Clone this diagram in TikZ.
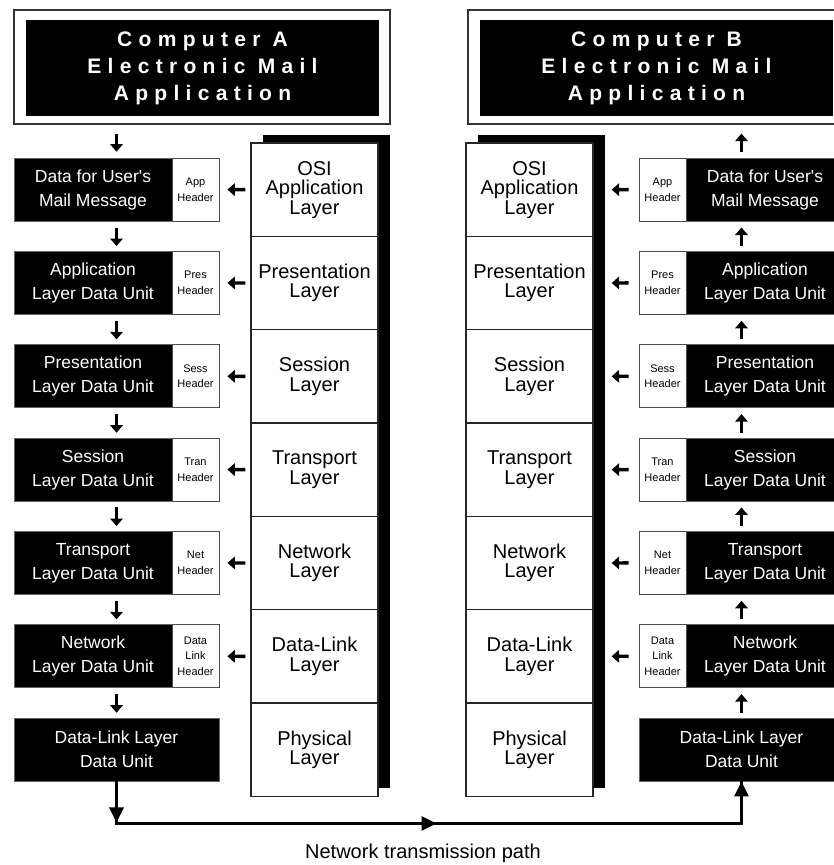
\documentclass[tikz,border=0pt]{standalone}
\usepackage{fontspec}
\setmainfont{Liberation Sans}
\newfontfamily\spacedfont[LetterSpace=30]{Liberation Sans}
\usetikzlibrary{arrows.meta,calc}

\tikzset{
  framebox/.style={draw=black!80, line width=1.2pt, fill=white,
    minimum width=376pt, minimum height=114pt, inner sep=0pt},
  titlebar/.style={fill=black, text=white, minimum width=353pt, minimum height=96pt,
    align=center, inner sep=0pt,
    font=\spacedfont\bfseries\fontsize{21}{27}\selectfont},
  unitbox/.style={fill=black, draw=black!60, line width=0.8pt,
    minimum width=205pt, minimum height=63pt, inner sep=0pt},
  hdrbox/.style={fill=white, draw=black!70, line width=0.8pt,
    minimum width=47pt, minimum height=63pt, align=center, inner sep=0pt,
    font=\fontsize{11}{15.5}\selectfont},
  unittext/.style={text=white, align=center, inner sep=0pt,
    font=\fontsize{17.5}{24}\selectfont},
  layercell/.style={draw=black!85, line width=1.3pt, fill=white,
    minimum width=127pt, minimum height=93.33pt, align=center, inner sep=0pt,
    font=\fontsize{20}{19.5}\selectfont},
  arr/.style={line width=3.4pt, -{Triangle[width=12.5pt,length=7.5pt]}},
  bigarr/.style={line width=3pt, -{Triangle[width=14pt,length=15pt]}},
  pathline/.style={line width=3pt, line join=miter},
}

\begin{document}
\begin{tikzpicture}[x=1pt, y=-1pt]
\useasboundingbox (0,0) rectangle (834,865);
\clip (0,0) rectangle (834,865);

% application banners
\node[framebox] (TA) at (202,67) {};
\node[titlebar] (TAt) at (202.5,68) {Computer A\\Electronic Mail\\Application};
\node[framebox] (TB) at (656,67) {};
\node[titlebar] (TBt) at (656.5,68) {Computer B\\Electronic Mail\\Application};

% OSI layer stacks
\foreach \i in {0,...,6}{
  \coordinate (LLc\i) at (314.5, {189.67+93.33*\i});
  \coordinate (RLc\i) at (529.5, {189.67+93.33*\i});
}
\fill ($(LLc0)+(-63.5,-46.67)+(12,-8)$) rectangle ($(LLc6)+(63.5,46.67)+(12,-8)$);
\fill ($(RLc0)+(-63.5,-46.67)+(12,-8)$) rectangle ($(RLc6)+(63.5,46.67)+(12,-8)$);
\foreach \i/\lay in {0/{OSI\\Application\\Layer}, 1/{Presentation\\Layer},
    2/{Session\\Layer}, 3/{Transport\\Layer}, 4/{Network\\Layer},
    5/{Data-Link\\Layer}, 6/{Physical\\Layer}}{
  \node[layercell] (LL\i) at (LLc\i) {\lay};
  \node[layercell] (RL\i) at (RLc\i) {\lay};
}

% data units with their headers
\foreach \i/\hd/\txt in {
   0/{App\\Header}/{Data for User\textquotesingle s\\Mail Message},
   1/{Pres\\Header}/{Application\\Layer Data Unit},
   2/{Sess\\Header}/{Presentation\\Layer Data Unit},
   3/{Tran\\Header}/{Session\\Layer Data Unit},
   4/{Net\\Header}/{Transport\\Layer Data Unit},
   5/{Data\\Link\\Header}/{Network\\Layer Data Unit}}{
  \node[unitbox] (L\i) at (116.5, {189.6+93.33*\i}) {};
  \node[hdrbox] (LH\i) at (195.5, {189.6+93.33*\i}) {\hd};
  \node[unittext] (LT\i) at (93, {189.6+93.33*\i}) {\txt};
  \node[unitbox] (R\i) at (741.5, {189.6+93.33*\i}) {};
  \node[hdrbox] (RH\i) at (662.5, {189.6+93.33*\i}) {\hd};
  \node[unittext] (RT\i) at (765, {189.6+93.33*\i}) {\txt};
  \draw[arr] ($(LL\i.west)+(-5,0)$) -- ($(LH\i.east)+(8,0)$);
  \draw[arr] ($(RH\i.west)+(-10,0)$) -- ($(RL\i.east)+(18,0)$);
}
\node[unitbox, unittext] (L6) at (116.5, {189.6+93.33*6}) {Data-Link Layer\\Data Unit};
\node[unitbox, unittext] (R6) at (741.5, {189.6+93.33*6}) {Data-Link Layer\\Data Unit};

% flow between units
\draw[arr] ($(L0.north |- TA.south)+(0,9)$) -- ($(L0.north)+(0,-6)$);
\draw[arr] ($(R0.north)+(0,-6)$) -- ($(R0.north |- TB.south)+(0,9)$);
\foreach \i in {0,...,5}{
  \pgfmathtruncatemacro{\j}{\i+1}
  \draw[arr] ($(L\i.south)+(0,6)$) -- ($(L\j.north)+(0,-5)$);
  \draw[arr] ($(R\j.north)+(0,-5)$) -- ($(R\i.south)+(0,6)$);
}

% network transmission path
\coordinate (turnA) at ($(L6.south)+(0,42)$);
\coordinate (turnB) at (turnA -| R6.south);
\coordinate (midpt) at ($(turnA)+(320,0)$);
\draw[pathline] (L6.south) -- (turnA) -- (turnB) -- (R6.south);
\draw[bigarr] (L6.south) -- ($(turnA)+(0,-1)$);
\draw[bigarr] (turnA) -- (midpt);
\draw[bigarr] (turnB) -- (R6.south);
\node[anchor=base, inner sep=0pt, font=\fontsize{20}{24}\selectfont] (cap) at (423,858) {Network transmission path};
\end{tikzpicture}
\end{document}
